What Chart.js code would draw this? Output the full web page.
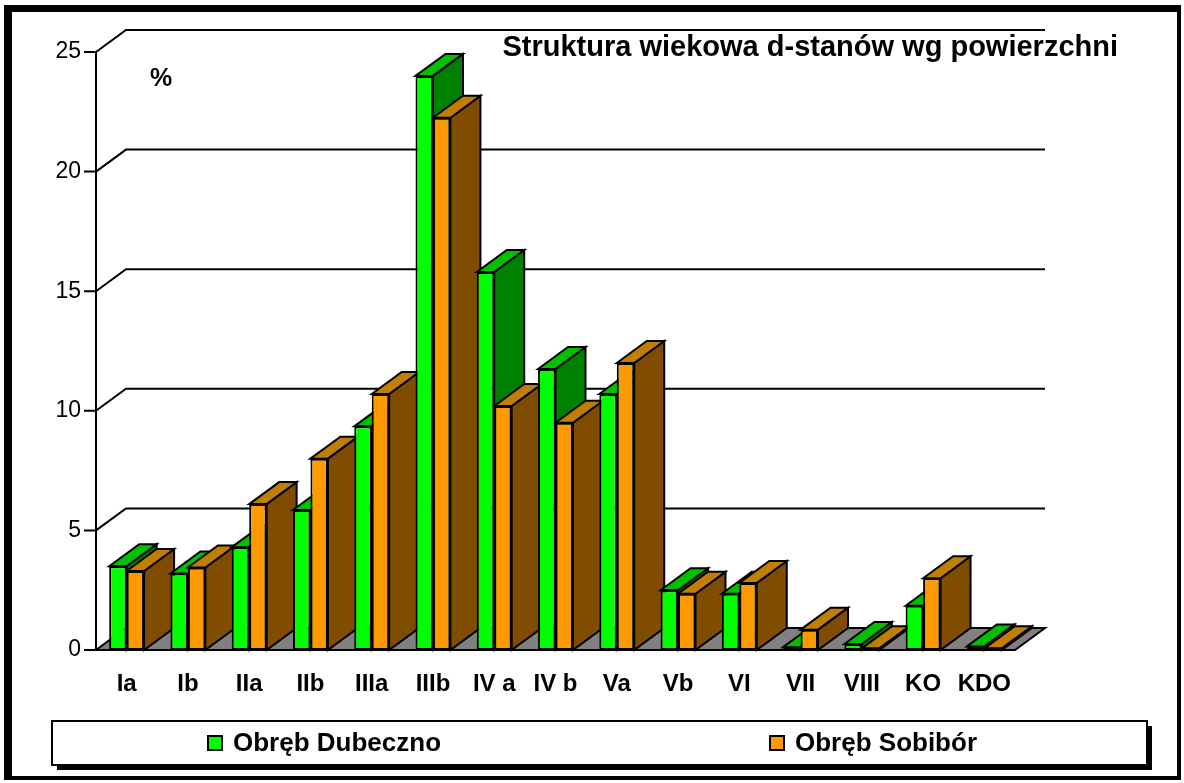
<!DOCTYPE html>
<html>
<head>
<meta charset="utf-8">
<script src="https://cdn.jsdelivr.net/npm/chart.js@4.4.0/dist/chart.umd.min.js"></script>
<style>
  html, body { margin: 0; padding: 0; background: #fff; }
  canvas { display: block; }
</style>
</head>
<body>
<canvas id="wykres" width="1184" height="783"></canvas>
<script>
// --- dane ---
const klasy = ["Ia", "Ib", "IIa", "IIb", "IIIa", "IIIb", "IV a", "IV b", "Va", "Vb", "VI", "VII", "VIII", "KO", "KDO"];
const dubeczno = [3.5, 3.2, 4.3, 5.85, 9.35, 24.0, 15.8, 11.75, 10.7, 2.5, 2.35, 0.12, 0.25, 1.85, 0.15];
const sobibor  = [3.3, 3.45, 6.1, 8.0, 10.7, 22.25, 10.2, 9.5, 12.0, 2.35, 2.8, 0.85, 0.07, 3.0, 0.07];
const nazwySerii = ["Obręb Dubeczno", "Obręb Sobibór"];
const tickiY = [0, 5, 10, 15, 20, 25];
const tytul = "Struktura wiekowa d-stanów wg powierzchni";
const jednostka = "%";

// --- wygląd ---
const kolory = [
  { przod: '#00FF00', gora: '#00C000', bok: '#008000' },
  { przod: '#FF9900', gora: '#C07F00', bok: '#7F4C00' }
];
const GX = 30, GY = 22;   // przesunięcie głębi 3D
const FONT = 'Arial, "Liberation Sans", sans-serif';

function wielokat(ctx, pkt, kolor) {
  ctx.beginPath();
  ctx.moveTo(pkt[0][0], pkt[0][1]);
  for (let k = 1; k < pkt.length; k++) ctx.lineTo(pkt[k][0], pkt[k][1]);
  ctx.closePath();
  ctx.fillStyle = kolor;
  ctx.fill();
  ctx.stroke();
}

// plugin rysujący podłogę, tylną ścianę i boki słupków
const efekt3D = {
  id: 'efekt3D',
  beforeDraw(chart) {
    const ctx = chart.ctx;
    ctx.save();
    ctx.fillStyle = '#fff';
    ctx.fillRect(0, 0, chart.width, chart.height);
    ctx.restore();
  },
  beforeDatasetsDraw(chart) {
    const ctx = chart.ctx, a = chart.chartArea, sy = chart.scales.y;
    const y0 = sy.getPixelForValue(0);
    ctx.save();
    ctx.lineWidth = 2;
    ctx.strokeStyle = '#000';
    ctx.lineJoin = 'miter';

    // podłoga
    wielokat(ctx, [[a.left, y0], [a.right, y0], [a.right + GX, y0 - GY], [a.left + GX, y0 - GY]], '#808080');

    // linie siatki na tylnej ścianie
    tickiY.forEach(v => {
      if (v === 0) return;
      const py = sy.getPixelForValue(v);
      ctx.beginPath();
      ctx.moveTo(a.left, py);
      ctx.lineTo(a.left + GX, py - GY);
      ctx.lineTo(a.right + GX, py - GY);
      ctx.stroke();
    });

    // oś Y i kreski podziałki
    ctx.beginPath();
    ctx.moveTo(a.left, sy.getPixelForValue(tickiY[tickiY.length - 1]));
    ctx.lineTo(a.left, y0);
    tickiY.forEach(v => {
      const py = sy.getPixelForValue(v);
      ctx.moveTo(a.left - 12, py);
      ctx.lineTo(a.left, py);
    });
    ctx.stroke();

    // boki i wierzchy słupków (od lewej do prawej)
    for (let i = 0; i < klasy.length; i++) {
      for (let d = 0; d < chart.data.datasets.length; d++) {
        const el = chart.getDatasetMeta(d).data[i];
        const p = el.getProps(['x', 'y', 'base', 'width'], true);
        const l = p.x - p.width / 2, r = p.x + p.width / 2;
        const k = kolory[d];
        wielokat(ctx, [[r, p.y], [r + GX, p.y - GY], [r + GX, p.base - GY], [r, p.base]], k.bok);
        wielokat(ctx, [[l, p.y], [l + GX, p.y - GY], [r + GX, p.y - GY], [r, p.y]], k.gora);
      }
    }
    ctx.restore();
  },
  afterDraw(chart) {
    const ctx = chart.ctx;
    ctx.save();
    ctx.fillStyle = '#000';

    // tytuł i jednostka
    ctx.font = 'bold 29px ' + FONT;
    ctx.textAlign = 'right';
    ctx.textBaseline = 'alphabetic';
    ctx.fillText(tytul, 1118, 56);
    ctx.font = 'bold 25px ' + FONT;
    ctx.textAlign = 'center';
    ctx.fillText(jednostka, 161, 86);

    // legenda
    ctx.fillRect(57, 726, 1095, 44);
    ctx.fillStyle = '#fff';
    ctx.fillRect(52, 721, 1095, 44);
    ctx.lineWidth = 2;
    ctx.strokeStyle = '#000';
    ctx.strokeRect(52, 721, 1095, 44);
    const pozycje = [208, 770];
    ctx.font = 'bold 26px ' + FONT;
    ctx.textAlign = 'left';
    nazwySerii.forEach((n, d) => {
      const x = pozycje[d];
      ctx.fillStyle = kolory[d].przod;
      ctx.fillRect(x, 736, 14, 14);
      ctx.strokeRect(x, 736, 14, 14);
      ctx.fillStyle = '#000';
      ctx.fillText(n, x + 25, 751);
    });

    // ramka
    ctx.fillRect(4, 5, 1177, 7);
    ctx.fillRect(4, 5, 8, 775);
    ctx.fillRect(1177, 5, 4, 775);
    ctx.fillRect(4, 776, 1177, 4);
    ctx.restore();
  }
};

const wykres = new Chart(document.getElementById('wykres'), {
  type: 'bar',
  data: {
    labels: klasy,
    datasets: [
      { label: nazwySerii[0], data: dubeczno, backgroundColor: kolory[0].przod },
      { label: nazwySerii[1], data: sobibor, backgroundColor: kolory[1].przod }
    ]
  },
  options: {
    responsive: false,
    animation: false,
    events: [],
    layout: { padding: { left: 0, top: 52, right: 169, bottom: 73 } },
    datasets: {
      bar: {
        borderColor: '#000',
        borderWidth: 2,
        borderSkipped: false,
        categoryPercentage: 0.57,
        barPercentage: 1.0
      }
    },
    plugins: {
      legend: { display: false },
      tooltip: { enabled: false }
    },
    scales: {
      x: {
        grid: { display: false, drawTicks: false },
        border: { display: false },
        ticks: { color: '#000', font: { family: FONT, size: 24, weight: 'bold' }, padding: 20, maxRotation: 0, autoSkip: false },
        afterFit(s) { s.height = 60; }
      },
      y: {
        min: 0,
        max: 25,
        grid: { display: false, drawTicks: false },
        border: { display: false },
        ticks: { stepSize: 5, color: '#000', font: { family: FONT, size: 23 }, padding: 15 },
        afterFit(s) { s.width = 96; }
      }
    }
  },
  plugins: [efekt3D]
});
</script>
</body>
</html>
